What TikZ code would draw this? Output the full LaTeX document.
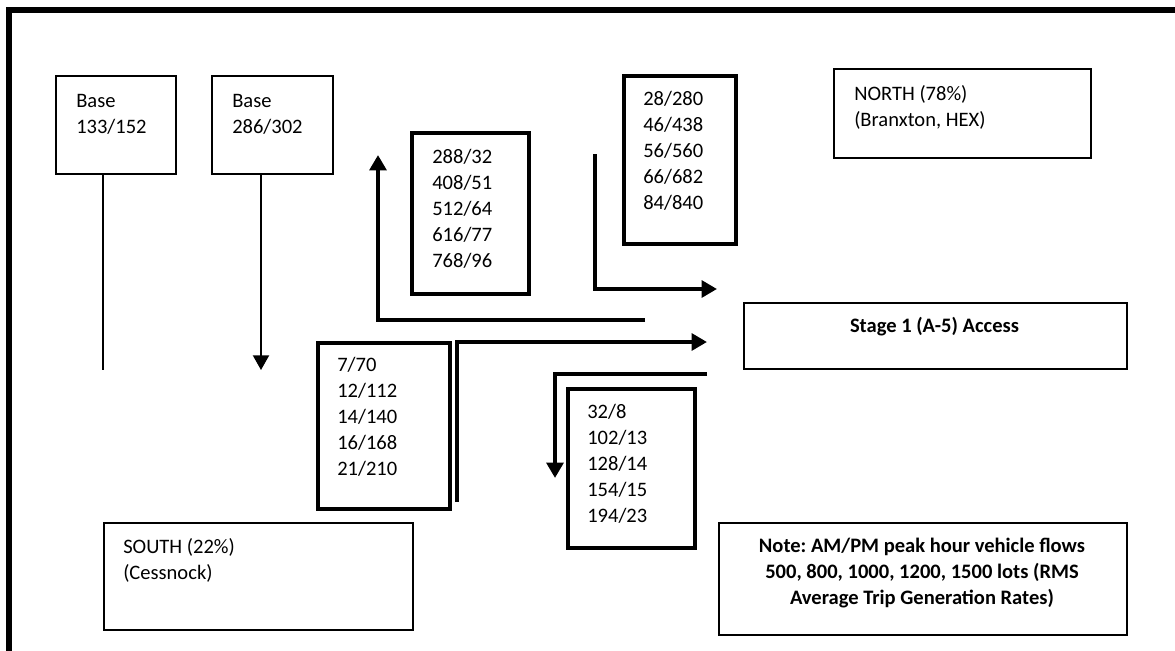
\documentclass[tikz,border=0pt]{standalone}
\usepackage{fontspec}
\setmainfont{Carlito}
\usetikzlibrary{arrows.meta}
\frenchspacing
\begin{document}
\begin{tikzpicture}[x=0.75pt,y=-0.75pt,
  thinbox/.style={draw,line width=1.5pt,inner sep=0pt,anchor=north west},
  thickbox/.style={draw,line width=2.8pt,inner sep=0pt,anchor=north west},
  txt/.style={inner sep=0pt,anchor=north west,align=left,font=\fontsize{15.4pt}{19.5pt}\selectfont},
  btxt/.style={inner sep=0pt,align=center,font=\fontsize{15.4pt}{19.5pt}\selectfont\bfseries},
  flow/.style={line width=3pt,line join=miter,-{Triangle[length=11.5pt,width=12.5pt]}},
  thinflow/.style={line width=1.5pt,-{Triangle[length=11pt,width=12pt]}},
  thinline/.style={line width=1.5pt}]
\useasboundingbox (0,0) rectangle (1175,650);
\begin{scope}
\clip (0,0) rectangle (1175,650);
\draw[line width=4.5pt] (9.3,1200) -- (9.3,10) -- (1400,10);
\end{scope}

% Base boxes
\node[thinbox,minimum width=0.75*120pt,minimum height=0.75*98pt] (b1) at (55,75) {};
\node[txt] (t1) at (76,88.8) {\strut Base\\133/152};
\node[thinbox,minimum width=0.75*121pt,minimum height=0.75*98pt] (b2) at (211,75) {};
\node[txt] (t2) at (232,88.8) {\strut Base\\286/302};
\coordinate (l1) at (103,370);
\coordinate (l2) at (261,370);
\draw[thinline] (b1.south -| l1) -- (l1);
\draw[thinflow] (b2.south -| l2) -- (l2);

% number boxes
\node[thickbox,minimum width=0.75*117pt,minimum height=0.75*161pt] (n1) at (410,131) {};
\node[txt] (tn1) at (432,144.8) {\strut 288/32\\408/51\\512/64\\616/77\\768/96};
\node[thickbox,minimum width=0.75*112pt,minimum height=0.75*168pt] (n2) at (622,74) {};
\node[txt] (tn2) at (643,87.5) {\strut 28/280\\46/438\\56/560\\66/682\\84/840};
\node[thickbox,minimum width=0.75*132pt,minimum height=0.75*166pt] (n3) at (316,341) {};
\node[txt] (tn3) at (337,353.5) {\strut 7/70\\12/112\\14/140\\16/168\\21/210};
\node[thickbox,minimum width=0.75*127pt,minimum height=0.75*159pt] (n4) at (566,387) {};
\node[txt] (tn4) at (587,399.8) {\strut 32/8\\102/13\\128/14\\154/15\\194/23};

% NORTH / SOUTH
\node[thinbox,minimum width=0.75*257pt,minimum height=0.75*89pt] (north) at (833,68) {};
\node[txt] (tnorth) at (854,81.8) {\strut NORTH (78\%)\\(Branxton, HEX)};
\node[thinbox,minimum width=0.75*309pt,minimum height=0.75*107pt] (south) at (103,522) {};
\node[txt] (tsouth) at (123,534.8) {\strut SOUTH (22\%)\\(Cessnock)};

% Stage 1 access
\node[thinbox,minimum width=0.75*383pt,minimum height=0.75*66pt] (stage) at (743,302) {};
\node[btxt,anchor=base] (tstage) at (934.5,332) {Stage 1 (A-5) Access};

% Note
\node[thinbox,minimum width=0.75*408pt,minimum height=0.75*112pt] (note) at (718,522) {};
\node[btxt,anchor=north] (tnote) at (922,533.8) {\strut Note: AM/PM peak hour vehicle flows\\500, 800, 1000, 1200, 1500 lots (RMS\\Average Trip Generation Rates)};

% flow arrows
\coordinate (a1s) at (645,320);
\coordinate (a1c) at (378,320);
\coordinate (a1e) at (378,155);
\draw[flow] (a1s) -- (a1c) -- (a1e);
\coordinate (a2s) at (595,154);
\coordinate (a2c) at (595,289);
\coordinate (a2e) at (717,289);
\draw[flow] (a2s) -- (a2c) -- (a2e);
\coordinate (a3s) at (457,502);
\coordinate (a3c) at (457,342);
\coordinate (a3e) at (707,342);
\draw[flow] (a3s) -- (a3c) -- (a3e);
\coordinate (a4s) at (707,374);
\coordinate (a4c) at (555,374);
\coordinate (a4e) at (555,478);
\draw[flow] (a4s) -- (a4c) -- (a4e);
\end{tikzpicture}
\end{document}
